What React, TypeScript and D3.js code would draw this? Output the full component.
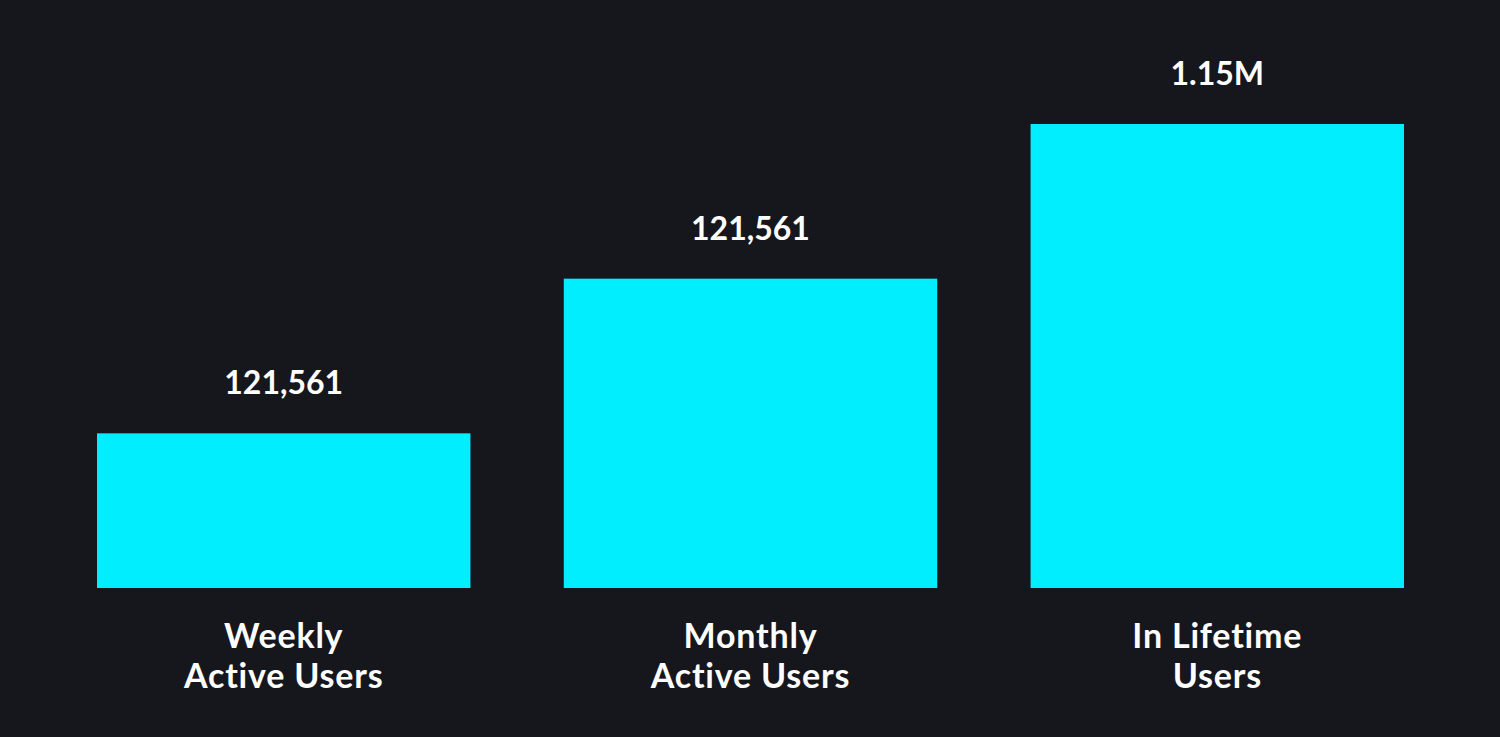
import React from "react";
import * as d3 from "d3";

const categories: string[][] = [
  ["Weekly", "Active Users"],
  ["Monthly", "Active Users"],
  ["In Lifetime", "Users"],
];
const valueLabels: string[] = ["121,561", "121,561", "1.15M"];
const levels: number[] = [1, 2, 3];

const W = 1500;
const H = 737;

export default function App() {
  const x = d3
    .scaleBand<number>()
    .domain(levels.map((_, i) => i))
    .range([97, 1404])
    .paddingInner(0.2)
    .paddingOuter(0);
  const y = d3.scaleLinear().domain([0, 3]).range([588, 124]);
  const font = "Lato, 'Open Sans', sans-serif";
  return (
    <div style={{ position: "fixed", left: 0, top: 0, width: W, height: H }}>
      <svg width={W} height={H} style={{ display: "block" }}>
        <rect x={0} y={0} width={W} height={H} fill="#16171d" />
        {levels.map((v, i) => {
          const bx = x(i)!;
          const bw = x.bandwidth();
          const cx = bx + bw / 2;
          return (
            <g key={i}>
              <rect x={bx} y={y(v)} width={bw} height={y(0) - y(v)} fill="#00eeff" />
              <text
                x={cx}
                y={y(v) - 39}
                textAnchor="middle"
                fill="#ffffff"
                fontFamily={font}
                fontWeight={700}
                fontSize={32}
              >
                {valueLabels[i]}
              </text>
              {categories[i].map((line, j) => (
                <text
                  key={j}
                  x={cx}
                  y={648 + j * 40}
                  textAnchor="middle"
                  fill="#ffffff"
                  fontFamily={font}
                  fontWeight={700}
                  fontSize={34}
                  letterSpacing={0.8}
                >
                  {line}
                </text>
              ))}
            </g>
          );
        })}
      </svg>
    </div>
  );
}
